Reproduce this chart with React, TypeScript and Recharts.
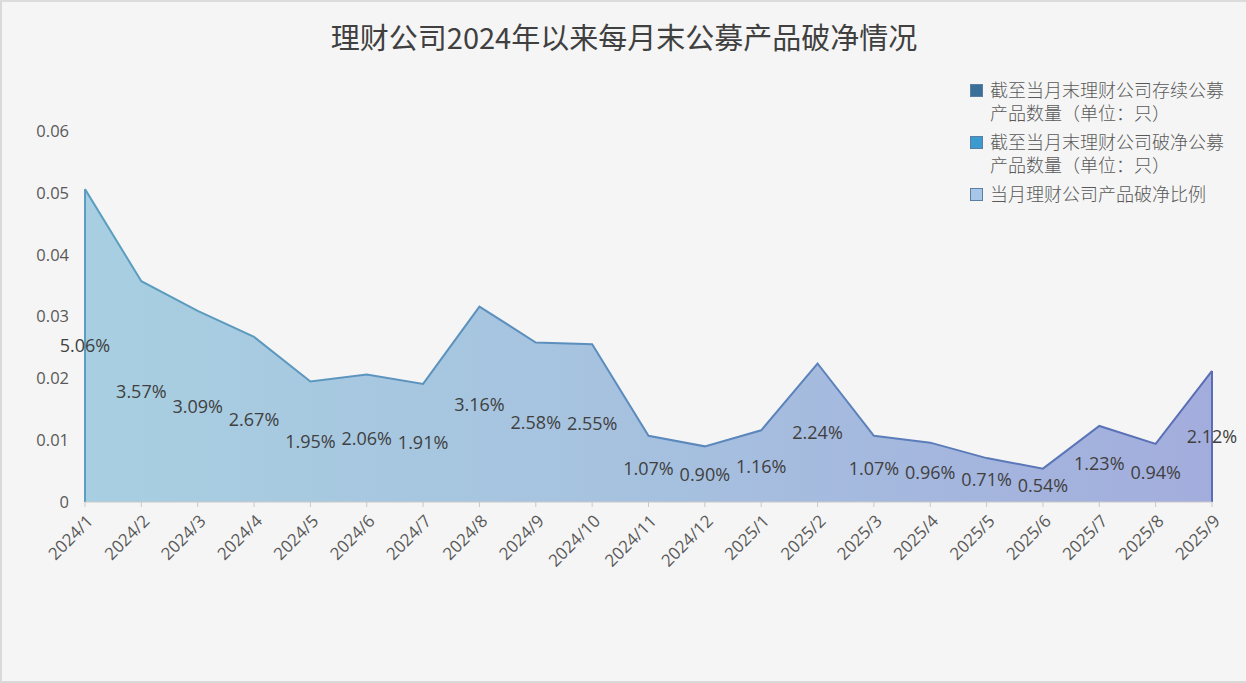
import React from 'react';
import {
	AreaChart,
	Area,
	Line,
	XAxis,
	YAxis,
	LabelList,
	ReferenceLine,
} from 'recharts';

const months = [
	'2024/1', '2024/2', '2024/3', '2024/4', '2024/5', '2024/6', '2024/7', '2024/8', '2024/9', '2024/10',
	'2024/11', '2024/12', '2025/1', '2025/2', '2025/3', '2025/4', '2025/5', '2025/6', '2025/7', '2025/8', '2025/9',
];

// 当月理财公司产品破净比例
const ratios = [
	0.0506, 0.0357, 0.0309, 0.0267, 0.0195, 0.0206, 0.0191, 0.0316, 0.0258, 0.0255,
	0.0107, 0.009, 0.0116, 0.0224, 0.0107, 0.0096, 0.0071, 0.0054, 0.0123, 0.0094, 0.0212,
];

const yTicks = [0, 0.01, 0.02, 0.03, 0.04, 0.05, 0.06];

const legendNames = [
	'截至当月末理财公司存续公募产品数量（单位：只）',
	'截至当月末理财公司破净公募产品数量（单位：只）',
	'当月理财公司产品破净比例',
];
const legendColors = ['#3a6f98', '#3b9ad0', '#a7c6e8'];

const TITLE = '理财公司2024年以来每月末公募产品破净情况';
const FONT = '"Open Sans", "Noto Sans CJK SC", sans-serif';

const data = months.map((m, i) => ({
	month: m,
	ratio: ratios[i],
	half: ratios[i] / 2,
	label: (ratios[i] * 100).toFixed(2) + '%',
}));

const first = months[0];
const last = months[months.length - 1];

function MonthTick(props: any) {
	const { x, y, payload } = props;
	return (
		<g transform={`translate(${x + 5},${y + 9})`}>
			<text
				textAnchor="end"
				transform="rotate(-45)"
				dy="0.35em"
				fill="#595959"
				fontSize={17}
				fontFamily={FONT}
			>
				{payload.value}
			</text>
		</g>
	);
}

function LegendBox() {
	return (
		<div style={{ position: 'absolute', left: 968, top: 76, width: 270, fontFamily: '"Noto Sans CJK SC", sans-serif' }}>
			{legendNames.map((name, i) => (
				<div key={name} style={{ display: 'flex', alignItems: 'flex-start', marginBottom: 6 }}>
					<span
						style={{
							display: 'inline-block',
							width: 11,
							height: 11,
							marginTop: 6,
							marginRight: 7,
							background: legendColors[i],
							border: '1px solid #5a7fa0',
							flexShrink: 0,
						}}
					/>
					<span style={{ fontSize: 18, lineHeight: '23px', color: '#595959', width: 240, fontWeight: 300 }}>{name}</span>
				</div>
			))}
		</div>
	);
}

export default function App() {
	return (
		<div
			style={{
				position: 'absolute',
				left: 0,
				top: 0,
				width: 1246,
				height: 683,
				boxSizing: 'border-box',
				background: '#f5f5f5',
				borderLeft: '2px solid #d9d9d9',
				borderTop: '2px solid #dcdcdc',
				borderBottom: '2px solid #d9d9d9',
				overflow: 'hidden',
			}}
		>
			<div
				style={{
					position: 'absolute',
					left: 0,
					right: 0,
					top: 13,
					textAlign: 'center',
					fontFamily: '"Noto Sans CJK SC", sans-serif',
					fontSize: 29,
					fontWeight: 400,
					color: '#404040',
				}}
			>
				{TITLE}
			</div>
			<LegendBox />
			<div style={{ position: 'absolute', left: -2, top: -2 }}>
				<AreaChart width={1246} height={683} data={data} margin={{ top: 131, right: 34, left: 25, bottom: 101 }}>
					<defs>
						<linearGradient id="fillGrad" x1="0" y1="0" x2="1" y2="0">
							<stop offset="0%" stopColor="#a8cfe1" />
							<stop offset="50%" stopColor="#a6c1df" />
							<stop offset="100%" stopColor="#a3addd" />
						</linearGradient>
						<linearGradient id="strokeGrad" x1="0" y1="0" x2="1" y2="0">
							<stop offset="0%" stopColor="#5b9fc0" />
							<stop offset="50%" stopColor="#5c8bbd" />
							<stop offset="100%" stopColor="#5a6db5" />
						</linearGradient>
					</defs>
					<XAxis
						dataKey="month"
						height={80}
						interval={0}
						tick={<MonthTick />}
						tickSize={5}
						axisLine={{ stroke: '#c9c9c9' }}
						tickLine={{ stroke: '#c9c9c9' }}
					/>
					<YAxis
						width={60}
						domain={[0, 0.06]}
						ticks={yTicks}
						interval={0}
						axisLine={false}
						tickLine={false}
						tickMargin={10}
						tickFormatter={(v: number) => String(v)}
						tick={{ fill: '#595959', fontSize: 16.5, fontFamily: FONT }}
					/>
					<Area
						type="linear"
						dataKey="ratio"
						fill="url(#fillGrad)"
						fillOpacity={1}
						stroke="url(#strokeGrad)"
						strokeWidth={2}
						isAnimationActive={false}
					/>
					<ReferenceLine segment={[{ x: first, y: 0 }, { x: first, y: ratios[0] }]} stroke="#5b9fc0" strokeWidth={2} />
					<ReferenceLine
						segment={[{ x: last, y: 0 }, { x: last, y: ratios[ratios.length - 1] }]}
						stroke="#5a6db5"
						strokeWidth={2}
					/>
					<Line dataKey="half" stroke="none" dot={false} activeDot={false} legendType="none" isAnimationActive={false}>
						<LabelList dataKey="label" position="center" fill="#404040" fontSize={18} fontFamily={FONT} />
					</Line>
				</AreaChart>
			</div>
		</div>
	);
}
